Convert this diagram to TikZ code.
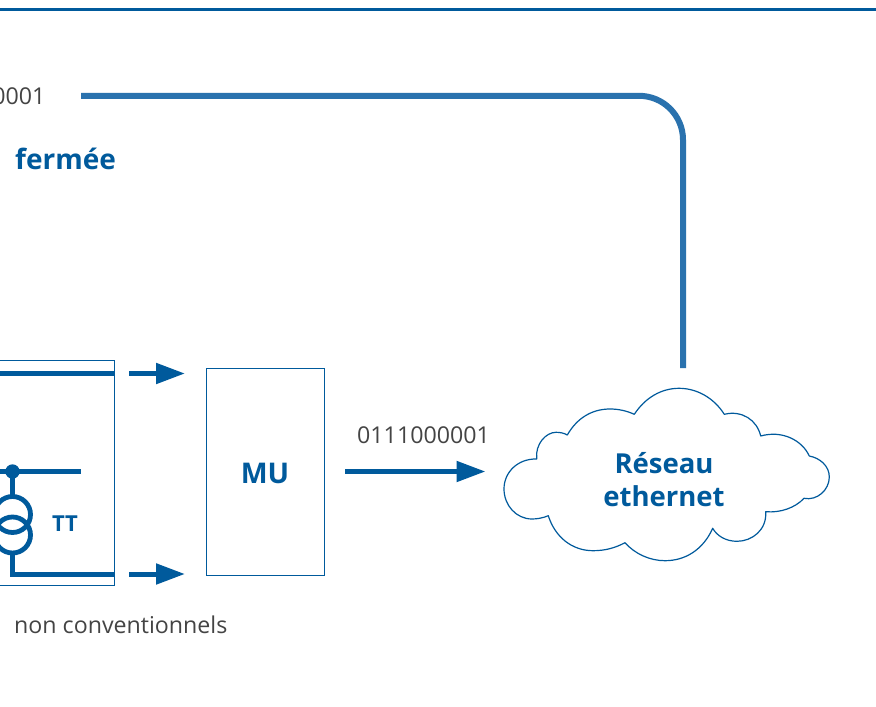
\documentclass[tikz,border=0pt]{standalone}
\usepackage{fontspec}
\setmainfont{Open Sans}
\usetikzlibrary{arrows.meta}
\definecolor{bl}{HTML}{005A9C}
\definecolor{blb}{HTML}{2A72AE}
\definecolor{txt}{HTML}{444444}
\tikzset{
  thin box/.style={draw=bl,line width=1pt},
  bar/.style={draw=bl,line width=5pt},
  flow/.style={draw=bl,line width=5pt,-{Triangle[length=29pt,width=20pt]}},
  body/.style={text=txt,font=\fontsize{23.2}{27}\selectfont,inner sep=0pt,anchor=base west},
  head/.style={text=bl,font=\fontsize{27.5}{33}\selectfont\bfseries,inner sep=0pt,align=center},
}
\begin{document}
\begin{tikzpicture}[x=1pt,y=-1pt]
\useasboundingbox (0,0) rectangle (876,707);
\fill[white] (0,0) rectangle (876,707);
% top rule
\draw[draw=bl,line width=3pt] (-5,9.8) -- (881,9.8);
% ethernet link
\node[body,anchor=base east] (bits1) at (45.5,104.5) {0111000001};
\coordinate (linkstart) at (81,95.8);
\coordinate (linkend) at (683,368);
\draw[draw=blb,line width=6pt,rounded corners=44pt] (linkstart) -- (linkend |- linkstart) -- (linkend);
\node[head,anchor=base west,font=\fontsize{28}{33}\selectfont\bfseries] (fermee) at (15,169.5) {fermée};
% left box
\draw[thin box] (-120,360.5) rectangle (114,585.5);
\draw[bar] (-5,373.5) -- (114,373.5);
\draw[bar] (-5,471.5) -- (81,471.5);
\fill[bl] (12.5,471.5) circle (7.2);
\draw[bar] (12.5,471.5) -- (12.5,495);
\draw[draw=bl,line width=4.8pt] (12.5,514.5) circle (18);
\draw[draw=bl,line width=4.8pt] (12.5,535) circle (18);
\draw[bar,line join=miter] (12.5,553) -- (12.5,574) -- (114,574);
\node[head,font=\fontsize{22}{25}\selectfont\bfseries] (tt) at (65,523.5) {TT};
\node[body] (nonconv) at (14,633) {non conventionnels};
% arrows to MU
\coordinate (a1) at (129,373.5); \coordinate (a1e) at (185,373.5);
\coordinate (a2) at (129,574); \coordinate (a2e) at (185,574);
\draw[flow] (a1) -- (a1e);
\draw[flow] (a2) -- (a2e);
% MU
\node[thin box,minimum width=118.5pt,minimum height=207pt,inner sep=0pt,outer sep=0pt] (mu) at (265.25,471.5) {};
\node[head,font=\fontsize{28.5}{32}\selectfont\bfseries] (mutext) at (265,473) {MU};
% cloud
\draw[draw=bl,line width=1.2pt,fill=white,line join=round]
 (634.3,414.3) .. controls (645,398) and (661,388.3) .. (679,388.3)
 .. controls (697,388.3) and (714,398) .. (724.3,414.3)
 .. controls (742,410) and (757,420) .. (760.7,436)
 .. controls (782,430) and (802,440) .. (809.3,456)
 .. controls (820,458) and (829.3,466) .. (829.3,477)
 .. controls (829.3,490) and (817,501) .. (804,498.3)
 .. controls (795,508) and (780,513) .. (765.7,511.7)
 .. controls (767,530) and (752,541.3) .. (737,541.3)
 .. controls (726,541.3) and (717,536) .. (712.7,528.3)
 .. controls (703,550) and (685,560.7) .. (665,560.7)
 .. controls (650,560.7) and (635,554) .. (625,542.7)
 .. controls (615,548) and (605,550.7) .. (593,550.7)
 .. controls (572,550.7) and (555,537) .. (548.3,515.7)
 .. controls (543,518) and (537,519) .. (532,519)
 .. controls (516,519) and (504,505) .. (504,489)
 .. controls (504,472) and (518,458.5) .. (536.7,459)
 .. controls (535,444) and (546,432.3) .. (556,432.3)
 .. controls (560,432.3) and (564,433) .. (567.3,435)
 .. controls (577,418) and (592,409) .. (610,409)
 .. controls (619,409) and (627,411) .. (634.3,414.3) -- cycle;
\node[minimum width=325.3pt,minimum height=172pt,inner sep=0pt,outer sep=0pt] (cloud) at (666.65,474.5) {};
\node[head] (cloudtext) at (664,479.5) {Réseau\\ethernet};
% MU to cloud
\draw[flow,shorten <=20.5pt,shorten >=18.5pt] (mu.east) -- (mu.east -| cloud.west);
\node[body] (bits2) at (357,443.5) {0111000001};
\end{tikzpicture}
\end{document}
